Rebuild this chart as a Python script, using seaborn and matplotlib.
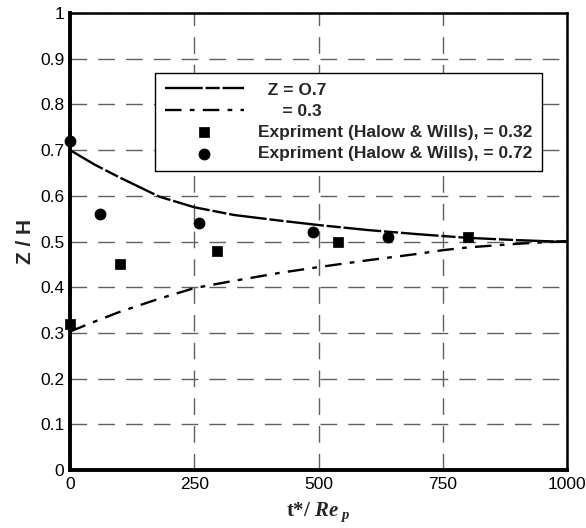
import matplotlib
matplotlib.use("Agg")
import matplotlib.pyplot as plt
import seaborn as sns
import numpy as np
import pandas as pd
from matplotlib.ticker import MultipleLocator

# ---- data ----
t_07 = [0, 50, 100, 180, 250, 330, 420, 500, 600, 700, 800, 900, 1000]
z_07 = [0.700, 0.668, 0.640, 0.598, 0.575, 0.558, 0.546, 0.536, 0.525, 0.516, 0.508, 0.503, 0.499]
t_03 = [0, 50, 100, 180, 250, 330, 420, 500, 600, 700, 750, 800, 900, 1000]
z_03 = [0.303, 0.325, 0.346, 0.375, 0.398, 0.414, 0.431, 0.444, 0.459, 0.473, 0.481, 0.487, 0.495, 0.501]
t_sq = [0, 100, 296, 540, 800]
z_sq = [0.32, 0.45, 0.48, 0.50, 0.51]
t_ci = [0, 60, 260, 489, 640]
z_ci = [0.72, 0.56, 0.54, 0.52, 0.51]
labels = ["  Z = O.7", "     = 0.3",
          "Expriment (Halow & Wills), = 0.32",
          "Expriment (Halow & Wills), = 0.72"]
xticks = [0, 250, 500, 750, 1000]
yticks = [0, 0.1, 0.2, 0.3, 0.4, 0.5, 0.6, 0.7, 0.8, 0.9, 1]
ytick_labels = ["0", "0.1", "0.2", "0.3", "0.4", "0.5", "0.6", "0.7", "0.8", "0.9", "1"]

sns.set_style("white")
plt.rcParams['font.family'] = ['Liberation Sans', 'DejaVu Sans']
plt.rcParams['mathtext.fontset'] = 'custom'
plt.rcParams['mathtext.rm'] = 'Liberation Serif:bold'
plt.rcParams['mathtext.bf'] = 'Liberation Serif:bold'
plt.rcParams['mathtext.it'] = 'Liberation Serif:italic:bold'

fig = plt.figure(figsize=(5.86, 5.28), dpi=100)
ax = fig.add_axes([70/586, 58/528, 497/586, 457/528])

df07 = pd.DataFrame({"t": t_07, "z": z_07})
df03 = pd.DataFrame({"t": t_03, "z": z_03})
dfsq = pd.DataFrame({"t": t_sq, "z": z_sq})
dfci = pd.DataFrame({"t": t_ci, "z": z_ci})

sns.lineplot(data=df07, x="t", y="z", ax=ax, color="black", lw=1.7,
             label=labels[0], zorder=4)
ax.lines[-1].set_dashes((16, 1.2, 6, 1.2))
sns.lineplot(data=df03, x="t", y="z", ax=ax, color="black", lw=1.7,
             label=labels[1], zorder=4)
ax.lines[-1].set_dashes((7, 3.5, 2, 3.5))
sns.scatterplot(data=dfsq, x="t", y="z", ax=ax, marker="s", s=42, color="black",
                edgecolor="black", label=labels[2], zorder=5, clip_on=False)
sns.scatterplot(data=dfci, x="t", y="z", ax=ax, marker="o", s=62, color="black",
                edgecolor="black", label=labels[3], zorder=5, clip_on=False)

ax.set_xlim(0, 1000)
ax.set_ylim(0, 1)
ax.set_xticks(xticks)
ax.set_yticks(yticks)
ax.set_xticklabels([str(v) for v in xticks])
ax.set_yticklabels(ytick_labels)
ax.xaxis.set_minor_locator(MultipleLocator(50))
ax.yaxis.set_minor_locator(MultipleLocator(0.02))
ax.tick_params(axis='both', which='major', direction='in', labelsize=12.5, width=2.2,
               colors='black')
ax.tick_params(axis='y', which='major', length=12, pad=4)
ax.tick_params(axis='x', which='major', length=10, pad=5)
ax.tick_params(axis='both', which='minor', direction='in', length=6, width=1.2)
ax.tick_params(top=False, right=False, which='both')

for side in ['left', 'bottom']:
    ax.spines[side].set_linewidth(2.8)
    ax.spines[side].set_color('black')
for side in ['top', 'right']:
    ax.spines[side].set_linewidth(1.8)
    ax.spines[side].set_color('black')
    ax.spines[side].set_visible(True)

ax.grid(True, which='major', color='#606060', linestyle=(0, (12, 8)), lw=1.0)
ax.set_axisbelow(True)

ax.set_ylabel("Z / H", fontsize=15, fontweight='bold', labelpad=4)
ax.set_xlabel(r"$\mathbf{t{*}{/}}\ \mathit{Re}_{\ \mathit{p}}$", fontsize=15, labelpad=6)

leg = ax.legend(loc='upper left', bbox_to_anchor=(0.171, 0.869), frameon=True,
                fancybox=False, framealpha=1, edgecolor='black',
                prop={'weight': 'bold', 'size': 12.5}, handlelength=4.6,
                borderpad=0.55, labelspacing=0.35, handletextpad=0.8,
                borderaxespad=0)
leg.get_frame().set_linewidth(1.0)

fig.savefig("out.png", dpi=100)
